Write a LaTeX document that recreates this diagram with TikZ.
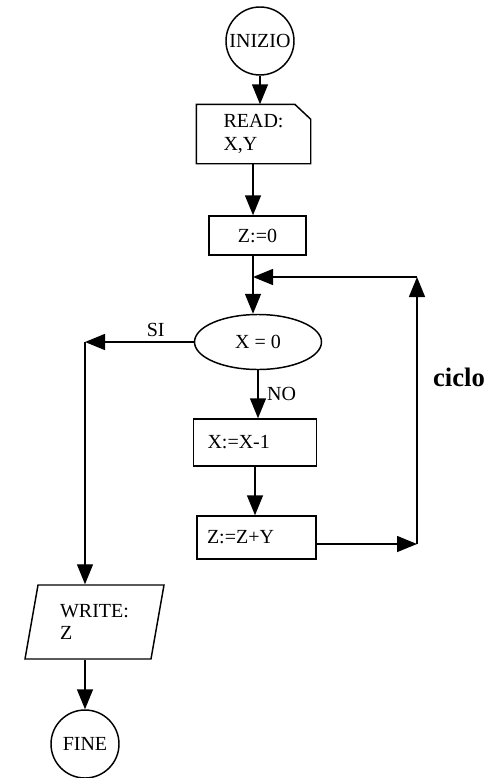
\documentclass[tikz,border=0pt]{standalone}
\usepackage{fontspec}
\setmainfont{Liberation Serif}
\usetikzlibrary{shapes,arrows.meta,calc}

\begin{document}
\begin{tikzpicture}[x=0.75pt,y=-0.75pt,
        line width=1.1pt,
        every node/.style={font=\fontsize{15}{17}\selectfont},
        termnode/.style={draw,circle,minimum size=51pt,inner sep=0pt},
        procnode/.style={draw,rectangle,align=left,inner ysep=0pt},
        testnode/.style={draw,ellipse,minimum width=95.25pt,minimum height=41.25pt,inner sep=0pt},
        ionode/.style={draw,trapezium,trapezium left angle=70,trapezium right angle=110,
            trapezium stretches body,minimum width=104.25pt,minimum height=55.5pt,inner sep=0pt,align=left},
        flow/.style={-{Triangle[length=15pt,width=12pt]}}
        ]
        \useasboundingbox (0,0) rectangle (494,778);

        % the blocks
        \node[termnode] (inizio) at (260,41) {INIZIO};
        \node[procnode,draw=none,minimum width=84.75pt,minimum height=43.5pt] (read) at (253.5,134) {READ:\\X,Y};
        \draw (read.south west) -- (read.north west) -- ([xshift=-12pt]read.north east)
            -- ([yshift=-11.25pt]read.north east) -- (read.south east) -- cycle;
        \node[procnode,minimum width=72.75pt,minimum height=29.25pt] (z0) at (257.5,235.5) {Z:=0};
        \node[testnode] (test) at (258,342) {X = 0};
        \node[procnode,text width=71.25pt,inner xsep=10.5pt,minimum height=35.25pt] (x1) at (255,442.5) {X:=X-1};
        \node[procnode,text width=74.25pt,inner xsep=7.5pt,minimum height=32.25pt] (z2) at (256.5,537.5) {Z:=Z+Y};
        \node[ionode] (write) at (94.5,622) {WRITE:\\Z};
        \node[termnode] (fine) at (85,744) {FINE};
        \node[font=\fontsize{20}{24}\selectfont\bfseries] (ciclo) at (459,377) {ciclo};

        % the corners
        \coordinate (join) at (253,277);
        \coordinate (looptr) at (417,277);
        \coordinate (loopbr) at (417,544);
        \coordinate (siturn) at (85,342);

        % the edges
        \draw[flow] (inizio) -- (inizio |- read.north);
        \draw[flow] (read.south -| join) -- (join |- z0.north);
        \draw (z0.south -| join) -- (join);
        \draw[flow] (join) -- (join |- test.north);
        \draw[flow] (test.west) -- node[above,pos=0.35] {SI} (siturn);
        \draw[flow] (siturn) -- (siturn |- write.north);
        \draw[flow] (test) -- node[right=3pt] {NO} (test |- x1.north);
        \draw[flow] (x1) -- (x1 |- z2.north);
        \draw[flow] (loopbr -| z2.east) -- (loopbr);
        \draw[flow] (loopbr) -- (looptr);
        \draw[flow] (looptr) -- (join);
        \draw[flow] (write.south -| fine) -- (fine);
\end{tikzpicture}
\end{document}
